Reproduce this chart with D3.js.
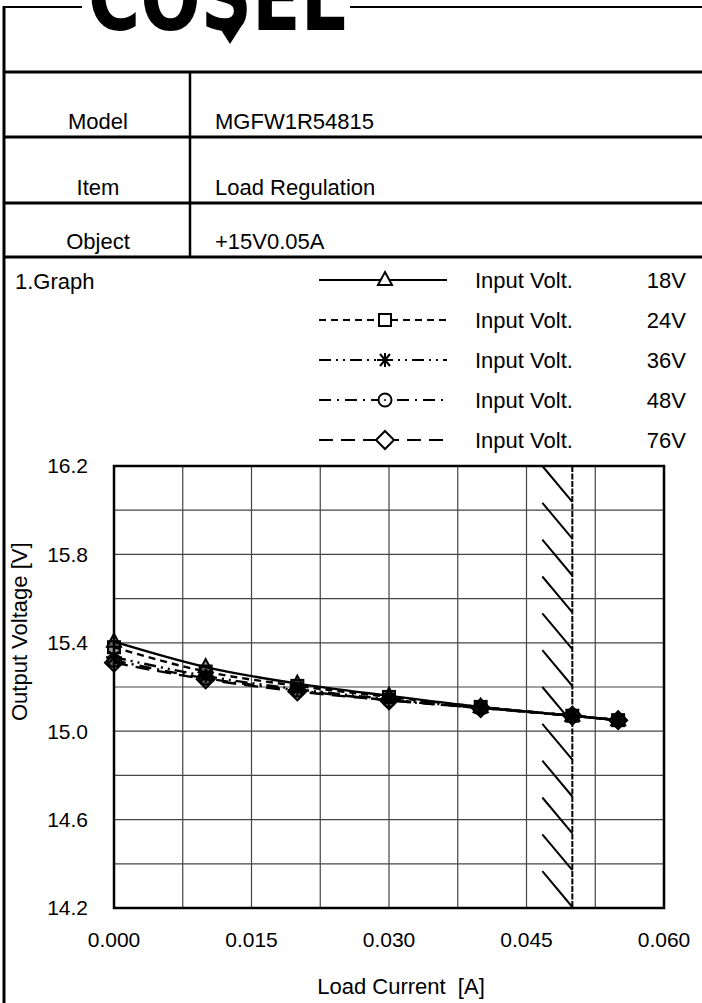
<!DOCTYPE html>
<html>
<head>
<meta charset="utf-8">
<script src="https://cdn.jsdelivr.net/npm/d3@7"></script>
<style>
  body { margin: 0; background: #fff; }
  svg { display: block; font-family: "Liberation Sans", Arial, sans-serif; }
</style>
</head>
<body>
<div id="chart"></div>
<script>
// values
var current = [0, 0.01, 0.02, 0.03, 0.04, 0.05, 0.055];
var inputVolts = ["18V", "24V", "36V", "48V", "76V"];
var v18 = [15.405, 15.29, 15.215, 15.16, 15.11, 15.07, 15.05];
var v24 = [15.38, 15.27, 15.205, 15.155, 15.11, 15.07, 15.05];
var v36 = [15.335, 15.25, 15.19, 15.145, 15.105, 15.07, 15.05];
var v48 = [15.32, 15.24, 15.185, 15.14, 15.105, 15.07, 15.05];
var v76 = [15.31, 15.235, 15.18, 15.14, 15.105, 15.07, 15.05];
var xTicks = [0, 0.015, 0.03, 0.045, 0.06];
var yTicks = [14.2, 14.6, 15.0, 15.4, 15.8, 16.2];
var ratedCurrent = 0.05;

var tableRows = [
    { label: "Model", value: "MGFW1R54815" },
    { label: "Item", value: "Load Regulation" },
    { label: "Object", value: "+15V0.05A" }
];

var W = 702, H = 1003;
var svg = d3.select("#chart").append("svg")
    .attr("width", W)
    .attr("height", H);

// ---- header frame + logo ----
svg.append("line").attr("x1", 4).attr("x2", 82).attr("y1", 7).attr("y2", 7)
    .attr("stroke", "#000").attr("stroke-width", 2);
svg.append("line").attr("x1", 350).attr("x2", W).attr("y1", 7).attr("y2", 7)
    .attr("stroke", "#000").attr("stroke-width", 2);
svg.append("line").attr("x1", 4).attr("x2", 4).attr("y1", 6).attr("y2", H)
    .attr("stroke", "#000").attr("stroke-width", 3);

// logo, top of the letters is cut by the page edge
svg.append("text")
    .attr("x", 88).attr("y", 30)
    .attr("textLength", 258)
    .attr("lengthAdjust", "spacingAndGlyphs")
    .style("font-family", "'DejaVu Sans', sans-serif")
    .style("font-weight", "bold")
    .style("font-size", "92px")
    .text("COSEL");
svg.append("path")
    .attr("d", "M216,22L230,44L244,22Z")
    .attr("fill", "#000");

// table
var rowTops = [72, 137, 203, 257];
rowTops.forEach(function (y) {
    svg.append("line").attr("x1", 4).attr("x2", W).attr("y1", y).attr("y2", y)
        .attr("stroke", "#000").attr("stroke-width", 3);
});
svg.append("line").attr("x1", 190).attr("x2", 190).attr("y1", 72).attr("y2", 257)
    .attr("stroke", "#000").attr("stroke-width", 2.5);

tableRows.forEach(function (r, i) {
    var base = rowTops[i + 1] - 8;
    svg.append("text").attr("x", 98).attr("y", base)
        .attr("text-anchor", "middle")
        .style("font-size", "22px")
        .text(r.label);
    svg.append("text").attr("x", 215).attr("y", base)
        .style("font-size", "22px")
        .text(r.value);
});

svg.append("text").attr("x", 15).attr("y", 289)
    .style("font-size", "22px")
    .text("1.Graph");

// ---- plot ----
var x = d3.scaleLinear().domain([0, 0.06]).range([114, 664]);
var y = d3.scaleLinear().domain([14.2, 16.2]).range([908, 466]);

var grid = svg.append("g");
d3.range(0, 0.06001, 0.0075).forEach(function (v) {
    grid.append("line")
        .attr("x1", x(v)).attr("x2", x(v))
        .attr("y1", y(14.2)).attr("y2", y(16.2))
        .attr("stroke", "#444").attr("stroke-width", 1.2);
});
d3.range(14.2, 16.2001, 0.2).forEach(function (v) {
    grid.append("line")
        .attr("x1", x(0)).attr("x2", x(0.06))
        .attr("y1", y(v)).attr("y2", y(v))
        .attr("stroke", "#444").attr("stroke-width", 1.2);
});

// hatched area left of rated current
var hatchCount = 12;
var hatchStep = (y(14.2) - y(16.2)) / hatchCount;
d3.range(hatchCount).forEach(function (i) {
    var top = y(16.2) + i * hatchStep;
    svg.append("line")
        .attr("x1", x(ratedCurrent) - 30).attr("y1", top)
        .attr("x2", x(ratedCurrent)).attr("y2", top + hatchStep - 1)
        .attr("stroke", "#000").attr("stroke-width", 2);
});
svg.append("line")
    .attr("x1", x(ratedCurrent)).attr("x2", x(ratedCurrent))
    .attr("y1", y(16.2)).attr("y2", y(14.2))
    .attr("stroke", "#000").attr("stroke-width", 2)
    .attr("stroke-dasharray", "6,1.5");

// axes labels
svg.selectAll(".ytick").data(yTicks).enter().append("text")
    .attr("x", 88).attr("y", function (d) { return y(d); })
    .attr("dy", "0.35em")
    .attr("text-anchor", "end")
    .style("font-size", "21px")
    .text(d3.format(".1f"));

svg.selectAll(".xtick").data(xTicks).enter().append("text")
    .attr("x", function (d) { return x(d); })
    .attr("y", 947)
    .attr("text-anchor", "middle")
    .style("font-size", "21px")
    .text(d3.format(".3f"));

svg.append("text")
    .attr("transform", "translate(27," + y(15.45) + ") rotate(-90)")
    .attr("text-anchor", "middle")
    .style("font-size", "22px")
    .text("Output Voltage [V]");

svg.append("text")
    .attr("x", 401).attr("y", 994)
    .attr("text-anchor", "middle")
    .style("font-size", "22px")
    .style("white-space", "pre")
    .text("Load Current  [A]");

// ---- series ----
var series = [
    { name: inputVolts[0], values: v18, dash: null, marker: "triangle" },
    { name: inputVolts[1], values: v24, dash: "7,5", marker: "square" },
    { name: inputVolts[2], values: v36, dash: "12,5,2,5,2,5", marker: "asterisk" },
    { name: inputVolts[3], values: v48, dash: "12,6,2,6", marker: "circle" },
    { name: inputVolts[4], values: v76, dash: "14,8", marker: "diamond" }
];

function drawMarker(g, type, cx, cy, fillOp) {
    var m = g.append("g").attr("transform", "translate(" + cx + "," + cy + ")");
    var st = function (s) {
        return s.attr("fill", fillOp ? "#000" : "#fff")
            .attr("fill-opacity", fillOp ? fillOp : 1)
            .attr("stroke", "#000").attr("stroke-width", 2);
    };
    if (type === "triangle") {
        st(m.append("path").attr("d", "M0,-8L7,5L-7,5Z"));
    } else if (type === "square") {
        st(m.append("rect").attr("x", -6).attr("y", -6).attr("width", 12).attr("height", 12));
    } else if (type === "asterisk") {
        st(m.append("path").attr("d", "M-8,0L8,0M-5,-6L5,6M-5,6L5,-6M0,-7L0,7"));
    } else if (type === "circle") {
        st(m.append("circle").attr("r", 6.5));
        m.append("circle").attr("r", 1).attr("fill", "#000");
    } else if (type === "diamond") {
        st(m.append("path").attr("d", "M0,-9L9,0L0,9L-9,0Z"));
    }
}

var line = d3.line()
    .x(function (d) { return x(d[0]); })
    .y(function (d) { return y(d[1]); })
    .curve(d3.curveMonotoneX);

series.forEach(function (s) {
    var pts = current.map(function (c, i) { return [c, s.values[i]]; });
    svg.append("path")
        .datum(pts)
        .attr("d", line)
        .attr("fill", "none")
        .attr("stroke", "#000")
        .attr("stroke-width", 2.4)
        .attr("stroke-dasharray", s.dash);
    var mg = svg.append("g");
    pts.forEach(function (p) { drawMarker(mg, s.marker, x(p[0]), y(p[1]), 0.4); });
});

// frame on top
svg.append("rect")
    .attr("x", x(0)).attr("y", y(16.2))
    .attr("width", x(0.06) - x(0)).attr("height", y(14.2) - y(16.2))
    .attr("fill", "none").attr("stroke", "#000").attr("stroke-width", 2.5);

// ---- legend ----
var legend = svg.append("g");
series.forEach(function (s, i) {
    var ly = 280 + i * 40;
    legend.append("line")
        .attr("x1", 319).attr("x2", 447).attr("y1", ly).attr("y2", ly)
        .attr("stroke", "#000").attr("stroke-width", 2)
        .attr("stroke-dasharray", s.dash);
    drawMarker(legend, s.marker, 385, ly, 0);
    legend.append("text").attr("x", 475).attr("y", ly).attr("dy", "0.35em")
        .style("font-size", "22px").text("Input Volt.");
    legend.append("text").attr("x", 686).attr("y", ly).attr("dy", "0.35em")
        .attr("text-anchor", "end")
        .style("font-size", "22px").text(s.name);
});
</script>
</body>
</html>
